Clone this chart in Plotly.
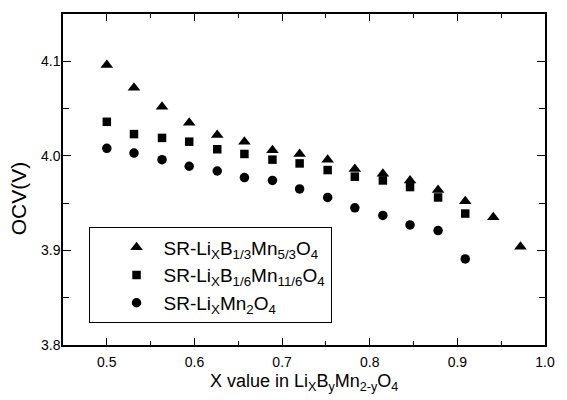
import plotly.graph_objects as go

# Data
x_all = [0.500, 0.531, 0.563, 0.594, 0.626, 0.657, 0.689, 0.720,
         0.752, 0.783, 0.815, 0.846, 0.878, 0.909, 0.941, 0.972]

ocv_b13 = [4.096, 4.072, 4.052, 4.035, 4.022, 4.015, 4.006, 4.002,
           3.996, 3.986, 3.981, 3.974, 3.964, 3.952, 3.935, 3.904]
ocv_b16 = [4.036, 4.023, 4.019, 4.015, 4.007, 4.002, 3.996, 3.992,
           3.985, 3.978, 3.974, 3.967, 3.956, 3.939]
ocv_mn2 = [4.008, 4.003, 3.996, 3.989, 3.984, 3.977, 3.974, 3.965,
           3.956, 3.945, 3.937, 3.927, 3.921, 3.891]

names = ["SR-Li<sub>X</sub>B<sub>1/3</sub>Mn<sub>5/3</sub>O<sub>4</sub>",
         "SR-Li<sub>X</sub>B<sub>1/6</sub>Mn<sub>11/6</sub>O<sub>4</sub>",
         "SR-Li<sub>X</sub>Mn<sub>2</sub>O<sub>4</sub>"]

x_ticks = [0.5, 0.6, 0.7, 0.8, 0.9, 1.0]
y_ticks = [3.8, 3.9, 4.0, 4.1]

FONT = "Liberation Sans, Arial, Helvetica, sans-serif"

fig = go.Figure()
fig.add_trace(go.Scatter(x=x_all[:len(ocv_b13)], y=ocv_b13, mode="markers", name=names[0],
                         marker=dict(symbol="triangle-up", size=11, color="black")))
fig.add_trace(go.Scatter(x=x_all[:len(ocv_b16)], y=ocv_b16, mode="markers", name=names[1],
                         marker=dict(symbol="square", size=8.5, color="black")))
fig.add_trace(go.Scatter(x=x_all[:len(ocv_mn2)], y=ocv_mn2, mode="markers", name=names[2],
                         marker=dict(symbol="circle", size=9.5, color="black")))

axis_common = dict(showline=True, linewidth=1.5, linecolor="black", mirror="allticks",
                   showgrid=False, zeroline=False, ticks="inside", tickwidth=1.2,
                   tickcolor="black", tickfont=dict(family=FONT, size=14, color="black"))

fig.update_xaxes(range=[0.45, 1.0], tickvals=x_ticks, ticktext=[f"{v:.1f}" for v in x_ticks],
                 ticklen=7, ticklabelstandoff=3,
                 minor=dict(dtick=0.05, tick0=0.45, ticks="inside", ticklen=4,
                            tickwidth=1.2, tickcolor="black", showgrid=False),
                 **axis_common)
fig.update_yaxes(range=[3.8, 4.15], tickvals=y_ticks, ticktext=[f"{v:.1f}" for v in y_ticks],
                 ticklen=8, ticklabelstandoff=-2,
                 minor=dict(dtick=0.05, tick0=3.8, ticks="inside", ticklen=6,
                            tickwidth=1.2, tickcolor="black", showgrid=False),
                 **axis_common)

fig.add_annotation(text="X value in Li<sub>X</sub>B<sub>y</sub>Mn<sub>2-y</sub>O<sub>4</sub>",
                   xref="paper", yref="paper", x=0.5, y=-0.114, xanchor="center",
                   yanchor="middle", showarrow=False,
                   font=dict(family=FONT, size=18, color="black"))
fig.add_annotation(text="OCV(V)", xref="paper", yref="paper", x=-0.092, y=0.442,
                   xanchor="center", yanchor="middle", textangle=-90, showarrow=False,
                   font=dict(family=FONT, size=21, color="black"))

fig.update_layout(
    width=567, height=400,
    margin=dict(l=63, r=13, t=12.5, b=55),
    paper_bgcolor="white", plot_bgcolor="white",
    showlegend=True,
    legend=dict(x=0.053, y=0.355, xanchor="left", yanchor="top",
                bordercolor="black", borderwidth=1, bgcolor="white",
                font=dict(family=FONT, size=19, color="black"),
                itemwidth=44, indentation=20, tracegroupgap=0),
)

fig.write_html("out.html")
